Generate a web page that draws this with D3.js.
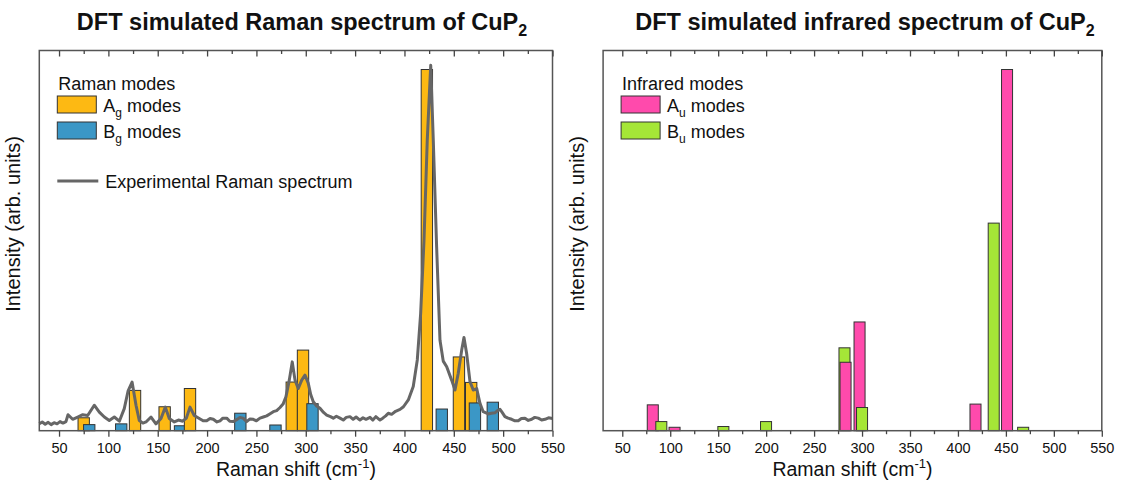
<!DOCTYPE html>
<html>
<head>
<meta charset="utf-8">
<script src="https://cdn.jsdelivr.net/npm/d3@7"></script>
<style>
    body { margin: 0; background: #fff; }
    svg { display: block; font-family: 'Liberation Sans', Arial, sans-serif; }
</style>
</head>
<body>
<div id="chart"></div>
<script>
// Raman active modes (DFT), shift in cm-1 and relative intensity
const ramanAgShift = [75, 127, 157, 182.7, 285.8, 297.2, 422.7, 455.2, 467.6];
const ramanAgInt = [3.4, 10.6, 6.3, 11.1, 12.8, 21.2, 95.0, 19.4, 12.7];
const ramanBgShift = [80.6, 113, 172.6, 233.7, 269.3, 306.8, 437.8, 471.4, 489.5];
const ramanBgInt = [1.6, 1.8, 1.3, 4.6, 1.5, 7.1, 5.7, 7.3, 7.5];

// infrared active modes (DFT)
const irAuShift = [81.8, 104.5, 282.8, 297.4, 418.3, 451.2];
const irAuInt = [6.8, 0.9, 18.0, 28.6, 7.0, 95.0];
const irBuShift = [90.7, 155.4, 199.9, 281.7, 300, 437.3, 468];
const irBuInt = [2.4, 1.1, 2.4, 21.8, 6.1, 54.6, 0.9];

// experimental Raman spectrum
const expShift = [30, 33, 36, 39, 42, 45, 48, 51, 54, 57, 59.1, 63.8, 68.9, 74, 79, 85.7, 90.8, 95.9, 100.9, 106,
    111.1, 116.1, 120, 124, 128, 131.3, 135, 138.1, 143.2, 148.2, 153.3, 157.7, 161.7, 166.8, 171, 175.3, 179, 182.7,
    187, 192.1, 196, 199.6, 203, 206.3, 210, 213.1, 216, 219.9, 223, 226.6, 230, 233.3, 236.5, 240.1, 243.5, 246.8,
    250, 253.6, 257, 260.4, 263.5, 267.1, 270.5, 273.9, 277, 279.9, 283.3, 286.3, 289.1, 292.4, 295.9, 299.2, 302.5,
    305, 307.6, 311, 314.4, 318, 321.2, 325, 327.9, 331, 334.7, 338, 341, 344.8, 348, 351, 354.9, 358, 361, 365.1,
    368, 371, 375.2, 378, 381, 383.6, 387, 391, 395.5, 399, 403.9, 408.9, 413, 416.4, 419.8, 423.1, 426.6, 429.2,
    432.6, 436, 439.3, 442.8, 447.8, 451.2, 454.5, 458, 460.3, 463, 466.4, 469.7, 473.2, 476.5, 479.8, 484.9, 488,
    491.7, 494, 496.8, 499, 501.8, 505, 508.6, 512, 515.3, 518.5, 522.1, 525.5, 528.9, 532, 535.6, 539, 542.4, 546, 550];
const expInt = [1.8, 2.3, 1.7, 2.2, 1.6, 2.1, 1.8, 2.4, 2.0, 2.4, 4.2, 3.0, 3.6, 4.2, 4.0, 6.7, 4.9, 3.6, 2.7, 3.6,
    2.5, 5.8, 10.5, 12.8, 6.7, 2.7, 2.0, 2.3, 3.6, 1.8, 3.2, 6.2, 3.2, 2.3, 2.8, 2.5, 3.3, 6.2,
    4.0, 3.2, 2.6, 2.6, 3.2, 3.0, 2.3, 2.6, 3.3, 3.3, 2.5, 2.4, 2.9, 3.5, 3.3, 2.4, 3.1, 3.0,
    2.6, 3.3, 3.6, 3.9, 4.4, 5.0, 5.3, 6.1, 7.0, 8.9, 13.3, 18.1, 13.3, 11.1, 13.3, 14.6, 12.5,
    9.5, 7.6, 6.5, 5.9, 4.8, 4.1, 3.7, 3.3, 3.8, 3.3, 2.8, 3.5, 3.7, 3.0, 3.6, 2.8, 3.4, 3.0, 3.5,
    2.8, 3.7, 2.8, 3.3, 3.9, 4.6, 4.3, 5.1, 5.6, 6.3, 8.1, 11.6, 18.6, 30.8, 50.1, 76.4, 96.1, 76.4,
    48.3, 23.8, 18.3, 16.8, 13.3, 10.7, 15.1, 21.2, 24.5, 20.3, 12.9, 10.7, 11.1, 7.2, 5.0, 4.4, 4.6,
    4.7, 5.2, 5.6, 4.8, 3.7, 3.3, 3.0, 2.6, 2.6, 3.2, 3.3, 2.7, 3.0, 3.5, 3.3, 2.8, 3.0, 3.4, 3.2];

const xTicks = [50, 100, 150, 200, 250, 300, 350, 400, 450, 500, 550];
const xMinorTicks = [75, 125, 175, 225, 275, 325, 375, 425, 475, 525];

const W = 1131;
const H = 482;
const BAR_W = 11.5; // in cm-1
const FONT = "'Liberation Sans', Arial, sans-serif";

const svg = d3.select('#chart').append('svg').attr('width', W).attr('height', H);

const makeModes = (shift, inten, type) => shift.map((s, i) => ({ shift: s, int: inten[i], type }));

const drawPanel = (opt) => {
    const g = svg.append('g');
    const x = d3.scaleLinear().domain([30, 550]).range([opt.left, opt.right]);
    const y = d3.scaleLinear().domain([0, 100]).range([430.7, 50.5]);

    // bars, in order of frequency so overlaps stack like the original
    const modes = opt.modes.slice().sort((a, b) => a.shift - b.shift);
    g.selectAll('rect.bar')
        .data(modes)
        .enter()
        .append('rect')
        .attr('class', 'bar')
        .attr('x', (d) => x(d.shift - BAR_W / 2))
        .attr('y', (d) => y(d.int))
        .attr('width', (d) => x(d.shift + BAR_W / 2) - x(d.shift - BAR_W / 2))
        .attr('height', (d) => y(0) - y(d.int))
        .attr('fill', (d) => opt.colors[d.type])
        .attr('stroke', '#333')
        .attr('stroke-width', 1);

    // experimental spectrum
    if (opt.line) {
        const line = d3
            .line()
            .x((d) => x(d[0]))
            .y((d) => y(d[1]));
        g.append('path')
            .datum(opt.line)
            .attr('fill', 'none')
            .attr('stroke', '#666')
            .attr('stroke-width', 3)
            .attr('stroke-linejoin', 'round')
            .attr('d', line);
    }

    // frame
    g.append('rect')
        .attr('x', opt.left)
        .attr('y', y(100))
        .attr('width', opt.right - opt.left)
        .attr('height', y(0) - y(100))
        .attr('fill', 'none')
        .attr('stroke', '#555')
        .attr('stroke-width', 1.5);

    // bottom axis, major + minor
    const bottom = g.append('g').attr('transform', `translate(0, ${y(0)})`);
    bottom.call(d3.axisBottom(x).tickValues(xTicks).tickSize(6).tickFormat(d3.format('d')));
    bottom.append('g').call(d3.axisBottom(x).tickValues(xMinorTicks).tickSize(3.5).tickFormat(''));
    bottom.selectAll('.domain').remove();
    bottom.selectAll('line').attr('stroke', '#444').attr('stroke-width', 1.3);
    bottom.selectAll('text')
        .attr('fill', '#111')
        .style('font-family', FONT)
        .style('font-size', '14.5px')
        .attr('dy', '0.95em');

    // top axis, ticks pointing in
    const top = g.append('g').attr('transform', `translate(0, ${y(100)})`);
    top.call(d3.axisTop(x).tickValues(xTicks).tickSize(-6).tickFormat(''));
    top.append('g').call(d3.axisTop(x).tickValues(xMinorTicks).tickSize(-3.5).tickFormat(''));
    top.selectAll('.domain').remove();
    top.selectAll('line').attr('stroke', '#444').attr('stroke-width', 1.3);

    // x axis title
    const xt = g.append('text')
        .attr('x', (opt.left + opt.right) / 2)
        .attr('y', 476)
        .attr('text-anchor', 'middle')
        .style('font-size', '19.5px')
        .attr('fill', '#111')
        .text('Raman shift (cm');
    xt.append('tspan').attr('dy', -8).style('font-size', '13px').text('-1');
    xt.append('tspan').attr('dy', 8).text(')');

    // y axis title
    g.append('text')
        .attr('transform', `translate(${opt.left - 19}, 224) rotate(-90)`)
        .attr('text-anchor', 'middle')
        .style('font-size', '20px')
        .attr('fill', '#111')
        .text('Intensity (arb. units)');

    // title
    const t = g.append('text')
        .attr('x', opt.titleX)
        .attr('y', 30)
        .attr('text-anchor', 'middle')
        .style('font-size', '23.5px')
        .style('font-weight', 'bold')
        .attr('fill', '#111')
        .text(opt.title);
    t.append('tspan').attr('dy', 6).style('font-size', '16px').text('2');

    // legend
    const lx = opt.left + 18;
    const legend = g.append('g').style('font-size', '18px').attr('fill', '#111');
    legend.append('text').attr('x', lx + 1).attr('y', 90).text(opt.legendTitle);
    opt.legendItems.forEach((item, i) => {
        const yy = 96 + i * 26;
        legend.append('rect')
            .attr('x', lx)
            .attr('y', yy)
            .attr('width', 39)
            .attr('height', 17)
            .attr('fill', opt.colors[item.type])
            .attr('stroke', '#333')
            .attr('stroke-width', 1);
        const tx = legend.append('text').attr('x', lx + 46).attr('y', yy + 16).text(item.main);
        tx.append('tspan').attr('dy', 5).style('font-size', '12px').text(item.sub);
        tx.append('tspan').attr('dy', -5).text(' modes');
    });
    if (opt.line) {
        legend.append('line')
            .attr('x1', lx)
            .attr('x2', lx + 41)
            .attr('y1', 181)
            .attr('y2', 181)
            .attr('stroke', '#666')
            .attr('stroke-width', 3);
        legend.append('text').attr('x', lx + 48).attr('y', 188).text('Experimental Raman spectrum');
    }
};

drawPanel({
    left: 39.3,
    right: 552.5,
    titleX: 302,
    title: 'DFT simulated Raman spectrum of CuP',
    legendTitle: 'Raman modes',
    modes: makeModes(ramanAgShift, ramanAgInt, 'a').concat(makeModes(ramanBgShift, ramanBgInt, 'b')),
    colors: { a: '#fdb913', b: '#3b97c6' },
    legendItems: [
        { type: 'a', main: 'A', sub: 'g' },
        { type: 'b', main: 'B', sub: 'g' }
    ],
    line: expShift.map((s, i) => [s, expInt[i]])
});

drawPanel({
    left: 603.1,
    right: 1101.8,
    titleX: 865,
    title: 'DFT simulated infrared spectrum of CuP',
    legendTitle: 'Infrared modes',
    modes: makeModes(irAuShift, irAuInt, 'a').concat(makeModes(irBuShift, irBuInt, 'b')),
    colors: { a: '#ff4aac', b: '#a5e637' },
    legendItems: [
        { type: 'a', main: 'A', sub: 'u' },
        { type: 'b', main: 'B', sub: 'u' }
    ],
    line: null
});
</script>
</body>
</html>
